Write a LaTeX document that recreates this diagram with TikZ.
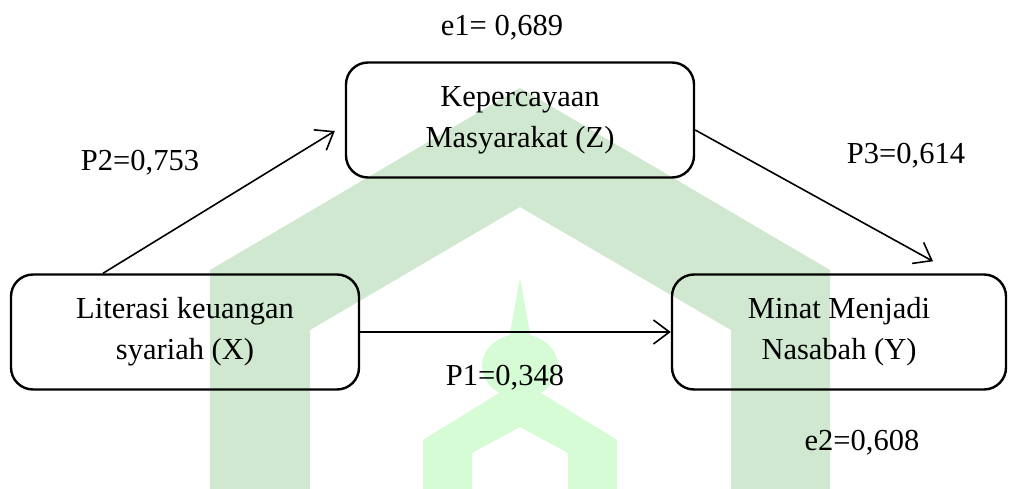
\documentclass[tikz,border=0pt]{standalone}
\usepackage{fontspec}
\setmainfont{Liberation Serif}
\usetikzlibrary{arrows.meta}
\tikzset{>={Straight Barb[length=16pt,width=24pt]}}
\definecolor{g1}{HTML}{D0E8D0}
\definecolor{g2}{HTML}{D6FCD6}
\tikzstyle{var}=[draw,line width=2.4pt,rounded corners=22pt,align=center,
  minimum width=348pt,minimum height=115pt,font=\fontsize{30.5}{41}\selectfont]
\tikzstyle{link}=[->,line width=1.6pt]
\tikzstyle{coef}=[inner sep=0pt,font=\fontsize{30.5}{41}\selectfont]

\begin{document}
\begin{tikzpicture}[x=1pt,y=-1pt]
  \useasboundingbox (0,0) rectangle (1009,489);
  % watermark
  \fill[g1] (210,489) -- (210,270) -- (520,88) -- (830,270) -- (830,489)
            -- (731,489) -- (731,330) -- (520,207) -- (310,330) -- (310,489) -- cycle;
  \fill[g2] (520,277) -- (532,345) -- (508,345) -- cycle;
  \fill[g2] (520,366) ellipse (38 and 32);
  \fill[g2] (423,489) -- (423,440) -- (520,380) -- (617,440) -- (617,489)
            -- (568,489) -- (568,453) -- (520,427) -- (472,453) -- (472,489) -- cycle;
  % variables
  \node[var] (Z) at (520,120) {Kepercayaan\\Masyarakat (Z)};
  \node[var] (X) at (185,332) {Literasi keuangan\\syariah (X)};
  \node[var,minimum width=334pt] (Y) at (839,332) {Minat Menjadi\\Nasabah (Y)};
  % paths
  \draw[link] ([xshift=-82pt]X.north) -- ([shift={(-10pt,-11pt)}]Z.west);
  \draw[link] ([yshift=-10pt]Z.east) -- ([shift={(94pt,12pt)}]Y.north);
  \draw[link] (X.east) -- (Y.west);
  \node[coef] (e1) at (502,28) {e1= 0,689};
  \node[coef] (p2) at (140,163) {P2=0,753};
  \node[coef] (p3) at (906,156) {P3=0,614};
  \node[coef] (p1) at (505,378) {P1=0,348};
  \node[coef] (e2) at (862,443) {e2=0,608};
\end{tikzpicture}
\end{document}
